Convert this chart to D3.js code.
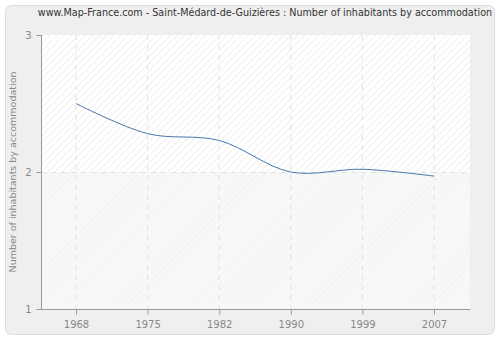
<!DOCTYPE html>
<html><head><meta charset="utf-8">
<script src="https://cdn.jsdelivr.net/npm/d3@7"></script>
<style>body{margin:0;background:#fff;} svg{display:block;}</style>
</head><body>
<svg id="c" width="500" height="340"></svg>
<script>
const years = ["1968","1975","1982","1990","1999","2007"];
const values = [2.50, 2.28, 2.23, 2.00, 2.02, 1.97];
const yTicks = [1, 2, 3];
const title = "www.Map-France.com - Saint-Médard-de-Guizières : Number of inhabitants by accommodation";
const yLabel = "Number of inhabitants by accommodation";

const svg = d3.select("#c");
const font = "DejaVu Sans, Verdana, sans-serif";
const m = {l:41, r:470, t:35, b:309};

const defs = svg.append("defs");
const p1 = defs.append("pattern").attr("id","h1").attr("patternUnits","userSpaceOnUse")
  .attr("width",5).attr("height",5).attr("patternTransform","rotate(45)");
p1.append("rect").attr("width",5).attr("height",5).attr("fill","#ffffff");
p1.append("line").attr("x1",0).attr("y1",0).attr("x2",0).attr("y2",5).attr("stroke","#ececec").attr("stroke-width",1.5);
const p2 = defs.append("pattern").attr("id","h2").attr("patternUnits","userSpaceOnUse")
  .attr("width",5).attr("height",5).attr("patternTransform","rotate(45)");
p2.append("rect").attr("width",5).attr("height",5).attr("fill","#f8f8f8");
p2.append("line").attr("x1",0).attr("y1",0).attr("x2",0).attr("y2",5).attr("stroke","#f2f2f2").attr("stroke-width",1.5);

svg.append("rect").attr("x",5.5).attr("y",5.5).attr("width",489).attr("height",329)
  .attr("rx",6).attr("fill","#efefef").attr("stroke","#dddddd");

const x = d3.scalePoint().domain(years).range([76, 434]);
const y = d3.scaleLinear().domain([1,3]).range([m.b, m.t]);

svg.append("rect").attr("x",m.l).attr("y",m.t).attr("width",m.r-m.l).attr("height",y(2)-m.t).attr("fill","url(#h1)");
svg.append("rect").attr("x",m.l).attr("y",y(2)).attr("width",m.r-m.l).attr("height",m.b-y(2)).attr("fill","url(#h2)");

// grid
svg.append("g").selectAll("line").data(years).join("line")
  .attr("x1",d=>x(d)).attr("x2",d=>x(d)).attr("y1",m.t).attr("y2",m.b)
  .attr("stroke","#e2e2e2").attr("stroke-dasharray","5,5");
svg.append("g").selectAll("line").data(yTicks.slice(1,-1)).join("line")
  .attr("x1",m.l).attr("x2",m.r).attr("y1",d=>y(d)+0.5).attr("y2",d=>y(d)+0.5)
  .attr("stroke","#e2e2e2").attr("stroke-dasharray","5,5");

// axes
const xa = svg.append("g").attr("transform",`translate(0,${m.b+0.5})`)
  .call(d3.axisBottom(x).tickSize(5).tickPadding(6));
xa.select(".domain").attr("d",`M${m.l},0H${m.r}`).attr("stroke","#999");
xa.selectAll("line").attr("stroke","#999");
xa.selectAll("text").attr("fill","#888").attr("font-family",font).attr("font-size",10);

const ya = svg.append("g").attr("transform",`translate(${m.l+0.5},0)`)
  .call(d3.axisLeft(y).tickValues(yTicks).tickFormat(d3.format("d")).tickSize(5).tickPadding(5));
ya.select(".domain").attr("d",`M0,${m.t}V${m.b}`).attr("stroke","#999");
ya.selectAll("line").attr("stroke","#999");
ya.selectAll("text").attr("fill","#888").attr("font-family",font).attr("font-size",10);

// line
const line = d3.line().x((d,i)=>x(years[i])).y(d=>y(d)).curve(d3.curveCatmullRom.alpha(0.5));
svg.append("path").datum(values).attr("d",line).attr("fill","none")
  .attr("stroke","#4a78b0").attr("stroke-width",1);

svg.append("text").attr("x",265).attr("y",16).attr("text-anchor","middle")
  .attr("font-family",font).attr("font-size",9.6)
  .attr("fill","#333").text(title);
svg.append("text").attr("transform",`translate(16,${(m.t+m.b)/2}) rotate(-90)`)
  .attr("text-anchor","middle").attr("font-family",font).attr("font-size",9.5).attr("fill","#888").text(yLabel);
</script>
</body></html>
